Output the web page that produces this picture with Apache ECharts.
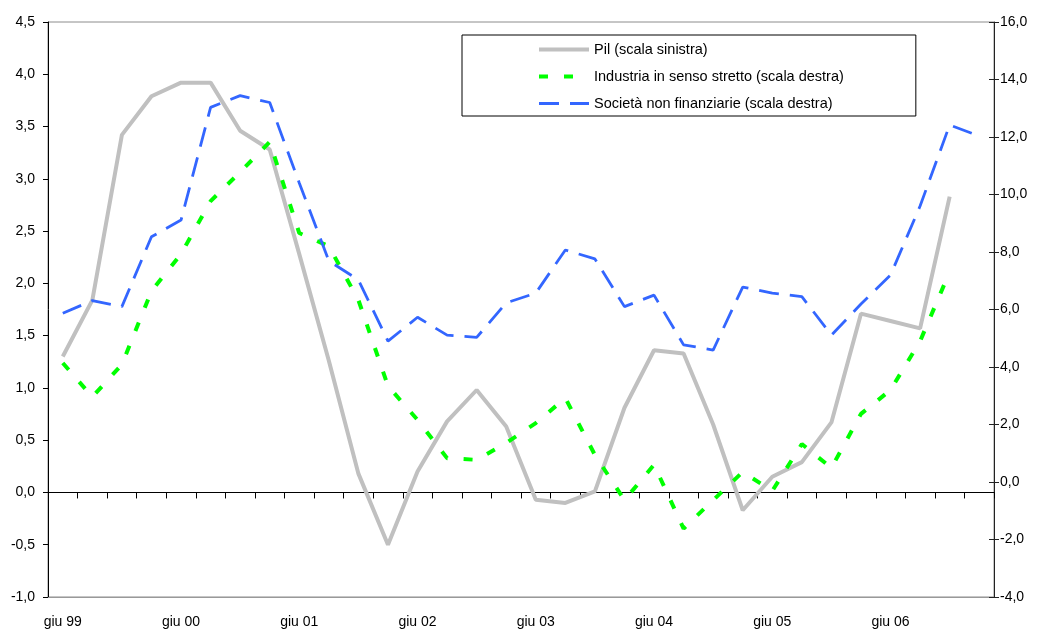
<!DOCTYPE html>
<html>
<head>
<meta charset="utf-8">
<title>Pil, industria e società non finanziarie</title>
<script src="https://cdn.jsdelivr.net/npm/echarts@6/dist/echarts.min.js"></script>
<style>
  html, body { margin: 0; padding: 0; background: #fff; }
  #chart { width: 1037px; height: 632px; }
</style>
</head>
<body>
<div id="chart"></div>
<script>
// quarterly periods, giu 99 .. mar 07
const quarters = [
  'giu 99', 'set 99', 'dic 99', 'mar 00', 'giu 00', 'set 00', 'dic 00', 'mar 01',
  'giu 01', 'set 01', 'dic 01', 'mar 02', 'giu 02', 'set 02', 'dic 02', 'mar 03',
  'giu 03', 'set 03', 'dic 03', 'mar 04', 'giu 04', 'set 04', 'dic 04', 'mar 05',
  'giu 05', 'set 05', 'dic 05', 'mar 06', 'giu 06', 'set 06', 'dic 06', 'mar 07'
];

// Pil (scala sinistra)
const pil = [
  1.30, 1.84, 3.42, 3.79, 3.92, 3.92, 3.46, 3.28,
  2.28, 1.26, 0.18, -0.50, 0.20, 0.68, 0.98, 0.63,
  -0.07, -0.10, 0.01, 0.81, 1.36, 1.33, 0.65, -0.17,
  0.15, 0.29, 0.67, 1.71, 1.64, 1.57, 2.83, null
];

// Industria in senso stretto (scala destra)
const industria = [
  4.14, 2.96, 4.09, 6.64, 7.93, 9.77, 10.78, 11.83,
  8.66, 8.20, 6.33, 3.34, 2.16, 0.83, 0.77, 1.36,
  2.05, 2.92, 0.94, -0.63, 0.60, -1.62, -0.63, 0.35,
  -0.31, 1.32, 0.49, 2.37, 3.20, 4.90, 7.31, null
];

// Società non finanziarie (scala destra)
const societa = [
  5.87, 6.31, 6.10, 8.53, 9.11, 13.03, 13.44, 13.20,
  10.40, 7.69, 7.03, 4.90, 5.73, 5.11, 5.03, 6.23,
  6.57, 8.07, 7.76, 6.10, 6.50, 4.77, 4.59, 6.78,
  6.57, 6.45, 5.11, 6.19, 7.20, 9.60, 12.42, 12.03
];

const seriesNames = [
  'Pil (scala sinistra)',
  'Industria in senso stretto (scala destra)',
  'Società non finanziarie (scala destra)'
];

const FONT = "'Liberation Sans', Arial, sans-serif";
const comma = v => v.toFixed(1).replace('.', ',');

const chart = echarts.init(document.getElementById('chart'));

chart.setOption({
  animation: false,
  textStyle: { fontFamily: FONT },
  grid: {
    left: 48, right: 43, top: 22, bottom: 35,
    show: true, borderColor: '#8c8c8c', borderWidth: 1
  },
  legend: {
    orient: 'vertical',
    left: 462, top: 35,
    padding: [7, 72, 5, 75],
    itemWidth: 50, itemHeight: 14, itemGap: 12,
    backgroundColor: '#fff',
    borderColor: '#000', borderWidth: 1,
    itemStyle: { opacity: 0 },
    textStyle: { fontFamily: FONT, fontSize: 14.5, color: '#000' },
    data: [
      { name: seriesNames[0], lineStyle: { width: 4 } },
      { name: seriesNames[1], lineStyle: { width: 4 } },
      { name: seriesNames[2], lineStyle: { width: 3 } }
    ]
  },
  xAxis: [
    {
      // zero line with the quarter ticks
      type: 'category',
      data: quarters,
      boundaryGap: true,
      axisLine: { onZero: true, onZeroAxisIndex: 0, lineStyle: { color: '#000', width: 1 } },
      axisTick: { show: true, interval: 0, length: 6, lineStyle: { color: '#000' } },
      axisLabel: { show: false },
      splitLine: { show: false }
    },
    {
      // bottom labels
      type: 'category',
      data: quarters,
      position: 'bottom',
      boundaryGap: true,
      axisLine: { onZero: false, lineStyle: { color: '#999' } },
      axisTick: { show: false },
      axisLabel: { interval: 3, margin: 18, fontSize: 14, color: '#000', fontFamily: FONT },
      splitLine: { show: false }
    }
  ],
  yAxis: [
    {
      type: 'value',
      position: 'left',
      min: -1, max: 4.5, interval: 0.5,
      axisLine: { show: true, lineStyle: { color: '#000' } },
      axisTick: { show: true, length: 5, lineStyle: { color: '#000' } },
      axisLabel: { formatter: comma, margin: 13, fontSize: 14, color: '#000', fontFamily: FONT },
      splitLine: { show: false }
    },
    {
      type: 'value',
      position: 'right',
      min: -4, max: 16, interval: 2,
      axisLine: { show: true, lineStyle: { color: '#222' } },
      axisTick: { show: true, length: 5, lineStyle: { color: '#222' } },
      axisLabel: { formatter: comma, margin: 6, fontSize: 14, color: '#000', fontFamily: FONT },
      splitLine: { show: false }
    },
    {
      // inner half of the crossing ticks on the right scale
      type: 'value',
      position: 'right',
      min: -4, max: 16, interval: 2,
      axisLine: { show: false },
      axisTick: { show: true, inside: true, length: 5, lineStyle: { color: '#222' } },
      axisLabel: { show: false },
      splitLine: { show: false }
    }
  ],
  series: [
    {
      name: seriesNames[0],
      type: 'line',
      yAxisIndex: 0,
      data: pil,
      symbol: 'none',
      color: '#c0c0c0',
      lineStyle: { color: '#c0c0c0', width: 4 },
      z: 2
    },
    {
      name: seriesNames[1],
      type: 'line',
      yAxisIndex: 1,
      data: industria,
      symbol: 'none',
      color: '#00ff00',
      lineStyle: { color: '#00ff00', width: 4, type: [9, 16] },
      z: 3
    },
    {
      name: seriesNames[2],
      type: 'line',
      yAxisIndex: 1,
      data: societa,
      symbol: 'none',
      color: '#3366ff',
      lineStyle: { color: '#3366ff', width: 2.8, type: [20, 11] },
      z: 4
    }
  ]
});
</script>
</body>
</html>
